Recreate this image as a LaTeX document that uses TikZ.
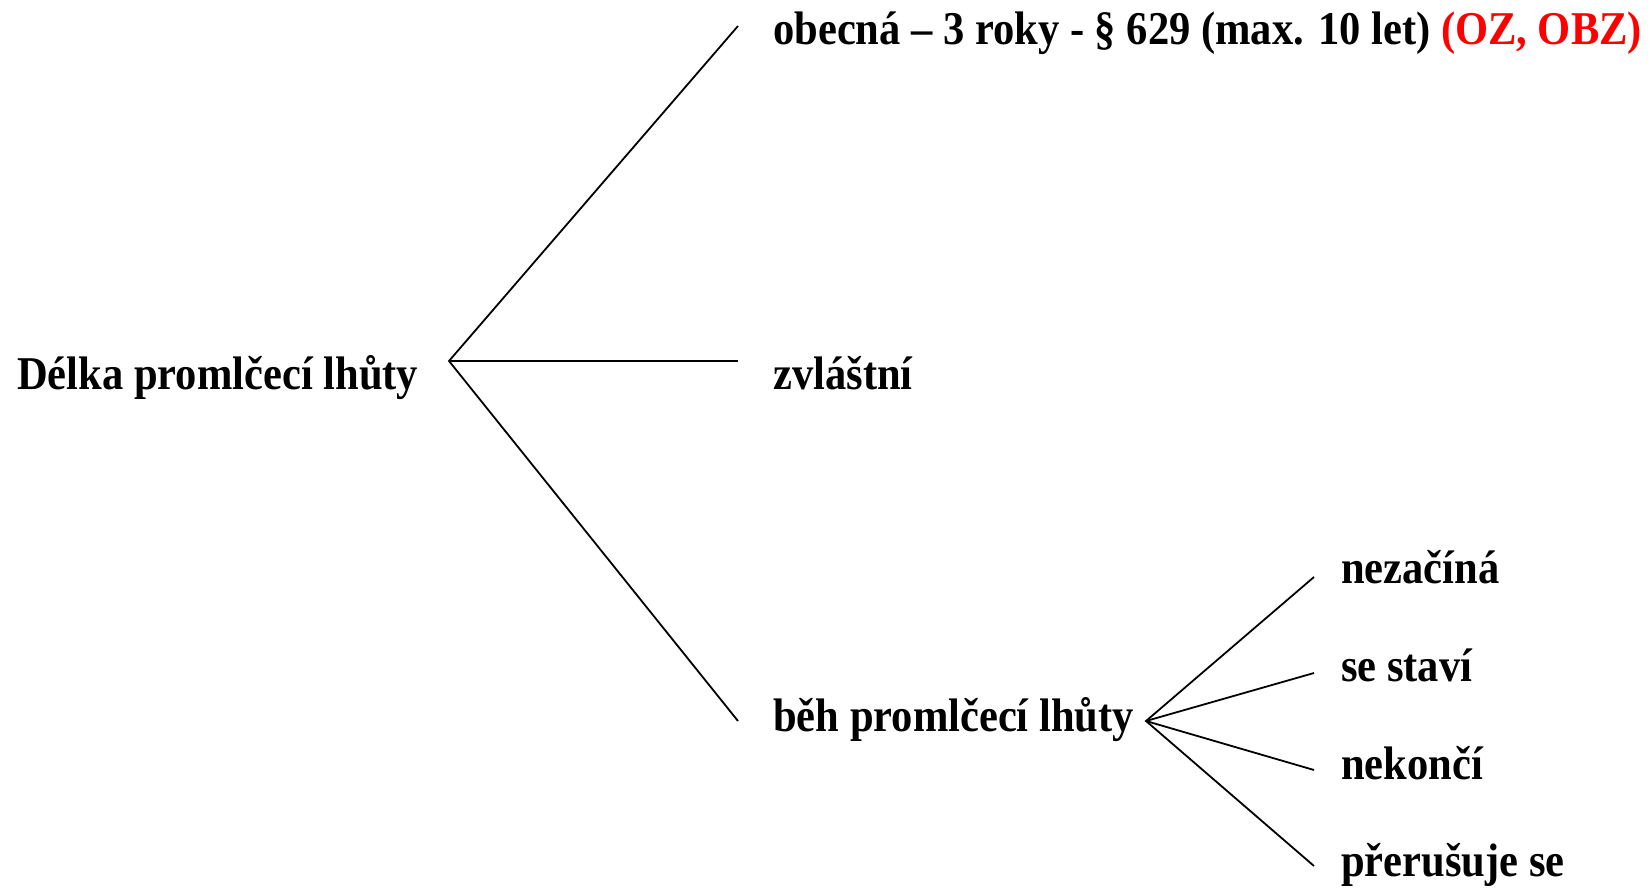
\documentclass[tikz,border=0pt]{standalone}
\usepackage{fontspec}
\setmainfont[FakeStretch=0.905]{Liberation Serif}
\begin{document}
\begin{tikzpicture}[x=1pt,y=-1pt,
  lbl/.style={anchor=base west,inner sep=0pt,font=\fontsize{47}{50}\selectfont\bfseries},
  conn/.style={line width=1.8pt}]
\useasboundingbox (0,0) rectangle (1649,888);
\node[lbl] (root) at (17,389) {Délka promlčecí lhůty};
\coordinate (j1) at (449,361);
\coordinate (e1) at (738,26);
\coordinate (e2) at (738,361);
\coordinate (e3) at (738,721);
\node[lbl] (obec) at (773,45) {obecná – 3 roky - § 629 (max. 10 let) \textcolor{red}{(OZ, OBZ)}};
\node[lbl] (zvl) at (773,389) {zvláštní};
\node[lbl] (beh) at (773,731) {běh promlčecí lhůty};
\coordinate (j2) at (1146,721);
\coordinate (f1) at (1314,577);
\coordinate (f2) at (1314,673);
\coordinate (f3) at (1314,770);
\coordinate (f4) at (1314,866);
\node[lbl] (n1) at (1341,583) {nezačíná};
\node[lbl] (n2) at (1341,681) {se staví};
\node[lbl] (n3) at (1341,779) {nekončí};
\node[lbl] (n4) at (1341,876) {přerušuje se};
\draw[conn] (e1) -- (j1) -- (e3);
\draw[conn] (j1) -- (e2);
\draw[conn] (f1) -- (j2) -- (f4);
\draw[conn] (j2) -- (f2);
\draw[conn] (j2) -- (f3);
\end{tikzpicture}
\end{document}
